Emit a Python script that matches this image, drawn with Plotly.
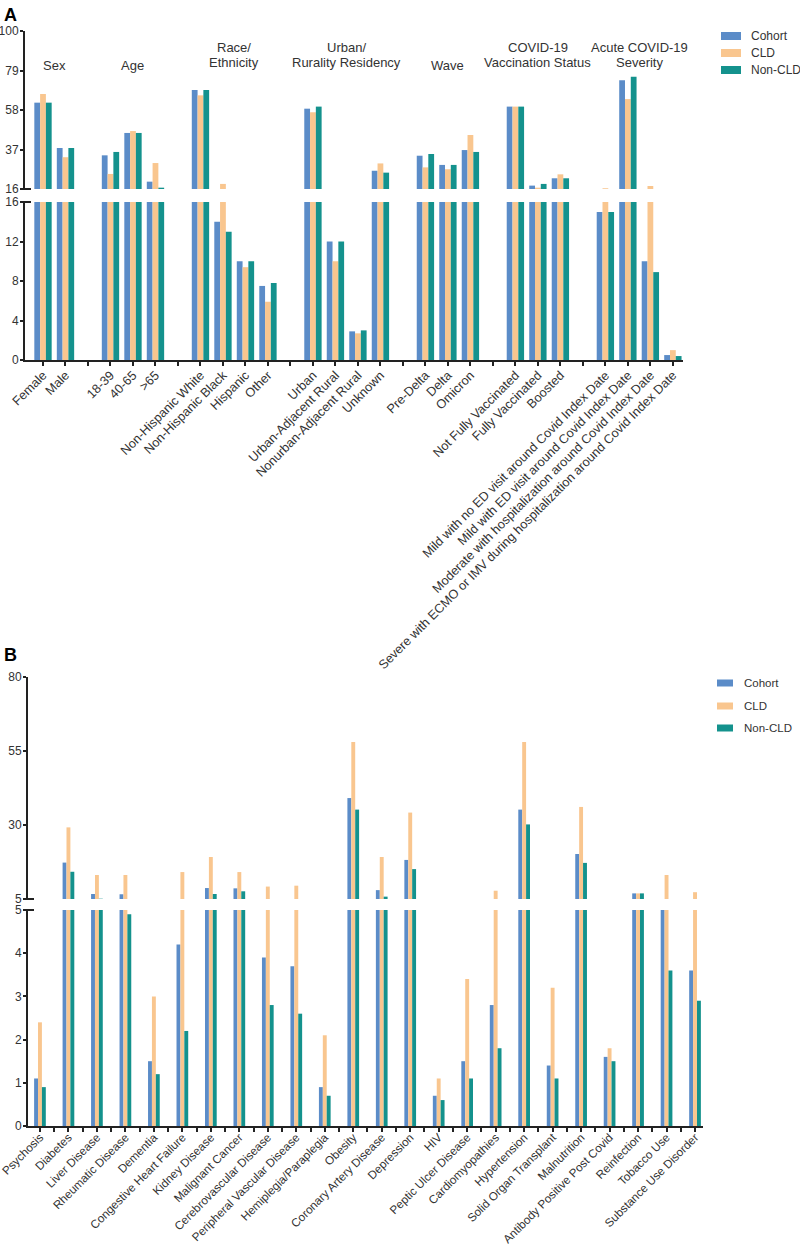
import plotly.graph_objects as go

# ---------------- Panel A data ----------------
a_group_titles = [["Sex"], ["Age"], ["Race/", "Ethnicity"], ["Urban/", "Rurality Residency"], ["Wave"],
                  ["COVID-19", "Vaccination Status"], ["Acute COVID-19", "Severity"]]
a_group_sizes = [2, 3, 4, 4, 3, 3, 4]
a_categories = ["Female", "Male",
                "18-39", "40-65", ">65",
                "Non-Hispanic White", "Non-Hispanic Black", "Hispanic", "Other",
                "Urban", "Urban-Adjacent Rural", "Nonurban-Adjacent Rural", "Unknown",
                "Pre-Delta", "Delta", "Omicron",
                "Not Fully Vaccinated", "Fully Vaccinated", "Boosted",
                "Mild with no ED visit around Covid Index Date",
                "Mild with ED visit around Covid Index Date",
                "Moderate with hospitalization around Covid Index Date",
                "Severe with ECMO or IMV during hospitalization around Covid Index Date"]
a_cohort = [61.9, 37.8, 33.9, 45.8, 19.9, 68.6, 14.0, 10.0, 7.5, 58.7, 12.0, 2.9, 25.7,
            33.7, 28.8, 36.7, 59.8, 17.8, 21.7, 15.0, 73.8, 10.0, 0.5]
a_cld = [66.5, 32.9, 24.0, 46.8, 29.8, 65.8, 18.7, 9.4, 5.9, 56.8, 10.0, 2.7, 29.6,
         27.5, 26.5, 44.7, 59.8, 16.7, 23.8, 16.4, 63.8, 17.6, 1.0]
a_noncld = [61.9, 37.8, 35.7, 45.8, 16.7, 68.6, 13.0, 10.0, 7.8, 59.8, 12.0, 3.0, 24.7,
            34.6, 28.8, 35.7, 59.8, 18.7, 21.7, 15.0, 75.7, 8.9, 0.4]
a_upper_ticks = [16, 37, 58, 79, 100]
a_lower_ticks = [0, 4, 8, 12, 16]

# ---------------- Panel B data ----------------
b_categories = ["Psychosis", "Diabetes", "Liver Disease", "Rheumatic Disease", "Dementia",
                "Congestive Heart Failure", "Kidney Disease", "Malignant Cancer",
                "Cerebrovascular Disease", "Peripheral Vascular Disease", "Hemiplegia/Paraplegia",
                "Obesity", "Coronary Artery Disease", "Depression", "HIV", "Peptic Ulcer Disease",
                "Cardiomyopathies", "Hypertension", "Solid Organ Transplant", "Malnutrition",
                "Antibody Positive Post Covid", "Reinfection", "Tobacco Use", "Substance Use Disorder"]
b_cohort = [1.1, 17.3, 6.7, 6.6, 1.5, 4.2, 8.7, 8.6, 3.9, 3.7, 0.9, 39.1, 8.0, 18.2,
            0.7, 1.5, 2.8, 35.2, 1.4, 20.2, 1.6, 6.9, 5.0, 3.6]
b_cld = [2.4, 29.2, 13.1, 13.1, 3.0, 14.1, 19.2, 14.1, 9.2, 9.5, 2.1, 58.0, 19.2, 34.2,
         1.1, 3.4, 7.8, 58.0, 3.2, 36.1, 1.8, 6.9, 13.1, 7.3]
b_noncld = [0.9, 14.2, 5.1, 4.9, 1.2, 2.2, 6.7, 7.6, 2.8, 2.6, 0.7, 35.2, 5.8, 15.1,
            0.6, 1.1, 1.8, 30.2, 1.1, 17.2, 1.5, 6.9, 3.6, 2.9]
b_upper_ticks = [5, 30, 55, 80]
b_lower_ticks = [0, 1, 2, 3, 4, 5]

series_names = ["Cohort", "CLD", "Non-CLD"]
colors = ["#5B8CC8", "#F9C68F", "#14928D"]

W, H = 800, 1248
FONT = "Liberation Sans, Arial, sans-serif"
TXT = "#333333"
AX = "#222222"


def py(px_y):
    return 1 - px_y / H


def px(px_x):
    return px_x / W


# positions for panel A: blank slot between groups
a_pos = []
p = 0
for n in a_group_sizes:
    for k in range(n):
        a_pos.append(p)
        p += 1
    p += 1
a_max = a_pos[-1]
a_tickvals = list(range(0, a_max + 1))
a_ticktext = ["" for _ in a_tickvals]
for pos, lab in zip(a_pos, a_categories):
    a_ticktext[pos] = lab

# positions for panel B: a blank slot between each category
b_pos = [2 * i for i in range(len(b_categories))]
b_max = b_pos[-1]
b_tickvals = list(range(0, b_max + 1))
b_ticktext = ["" for _ in b_tickvals]
for pos, lab in zip(b_pos, b_categories):
    b_ticktext[pos] = lab

fig = go.Figure()

a_width = 0.257
a_offsets = [-1.5 * a_width, -0.5 * a_width, 0.5 * a_width]
b_width = 0.274
b_offsets = [-1.5 * b_width, -0.5 * b_width, 0.5 * b_width]

a_data = [a_cohort, a_cld, a_noncld]
b_data = [b_cohort, b_cld, b_noncld]

for i in range(3):
    for xa, ya in [("x2", "y2"), ("x", "y")]:
        fig.add_trace(go.Bar(x=a_pos, y=a_data[i], name=series_names[i], width=a_width,
                             offset=a_offsets[i], marker=dict(color=colors[i], line=dict(width=0)),
                             xaxis=xa, yaxis=ya, showlegend=False))
for i in range(3):
    for xa, ya in [("x4", "y4"), ("x3", "y3")]:
        fig.add_trace(go.Bar(x=b_pos, y=b_data[i], name=series_names[i], width=b_width,
                             offset=b_offsets[i], marker=dict(color=colors[i], line=dict(width=0)),
                             xaxis=xa, yaxis=ya, showlegend=False))

a_xrange = [-0.8, a_max + 0.45]
b_xrange = [-0.84, b_max + 0.56]
a_xdom = [px(25), px(683)]
b_xdom = [px(28), px(703)]

yaxis_common = dict(showline=True, linecolor=AX, linewidth=2, ticks="outside", ticklen=3,
                    tickwidth=1.5, tickcolor=AX, showgrid=False, zeroline=False,
                    ticklabeloverflow="allow", ticklabelstandoff=-1,
                    tickfont=dict(family=FONT, size=12, color=TXT), fixedrange=True)


def xaxis_common(fs, standoff):
    return dict(showline=True, linecolor=AX, linewidth=2, ticks="outside", ticklen=4,
                tickwidth=1.5, tickcolor=AX, tickangle=-45, showgrid=False, zeroline=False,
                ticklabeloverflow="allow", ticklabelstandoff=standoff,
                tickfont=dict(family=FONT, size=fs, color=TXT))


fig.update_layout(
    width=W, height=H, plot_bgcolor="white", paper_bgcolor="white",
    margin=dict(l=0, r=0, t=0, b=0, autoexpand=False),
    barmode="overlay", font=dict(family=FONT, color=TXT), showlegend=False,
    xaxis=dict(domain=a_xdom, range=a_xrange, visible=False, anchor="y"),
    yaxis=dict(domain=[py(189), py(31)], range=[16, 100], tickvals=a_upper_ticks,
               anchor="x", **yaxis_common),
    xaxis2=dict(domain=a_xdom, range=a_xrange, anchor="y2",
                tickvals=a_tickvals, ticktext=a_ticktext, **xaxis_common(12.7, -3)),
    yaxis2=dict(domain=[py(360), py(202)], range=[0, 16], tickvals=a_lower_ticks,
                anchor="x2", **yaxis_common),
    xaxis3=dict(domain=b_xdom, range=b_xrange, visible=False, anchor="y3"),
    yaxis3=dict(domain=[py(899), py(677)], range=[5, 80], tickvals=b_upper_ticks,
                anchor="x3", **yaxis_common),
    xaxis4=dict(domain=b_xdom, range=b_xrange, anchor="y4",
                tickvals=b_tickvals, ticktext=b_ticktext, **xaxis_common(11.7, -6)),
    yaxis4=dict(domain=[py(1126), py(910)], range=[0, 5], tickvals=b_lower_ticks,
                anchor="x4", **yaxis_common),
)

# Panel labels
fig.add_annotation(text="<b>A</b>", x=px(2), y=py(3), xref="paper", yref="paper",
                   xanchor="left", yanchor="top", showarrow=False,
                   font=dict(family=FONT, size=18, color="black"))
fig.add_annotation(text="<b>B</b>", x=px(2), y=py(643), xref="paper", yref="paper",
                   xanchor="left", yanchor="top", showarrow=False,
                   font=dict(family=FONT, size=18, color="black"))

# Group titles for panel A (centered over each group)
start = 0
for lines, n in zip(a_group_titles, a_group_sizes):
    grp = a_pos[start:start + n]
    center = (grp[0] + grp[-1]) / 2
    start += n
    ys = [65] if len(lines) == 1 else [48, 62]
    for line, yy in zip(lines, ys):
        fig.add_annotation(text=line, x=center, xref="x", y=py(yy), yref="paper",
                           xanchor="center", yanchor="middle", showarrow=False,
                           font=dict(family=FONT, size=13, color=TXT))

# Legends (drawn as swatches + labels)
for (sx0, sx1, sh, tx, rows, fs) in [(721, 741, 8, 749, [36, 53, 70], 12),
                                     (717, 733, 7, 742, [683, 706, 728], 11.5)]:
    for i, yy in enumerate(rows):
        fig.add_shape(type="rect", xref="paper", yref="paper", x0=px(sx0), x1=px(sx1),
                      y0=py(yy + sh / 2), y1=py(yy - sh / 2), line=dict(width=0),
                      fillcolor=colors[i])
        fig.add_annotation(text=series_names[i], x=px(tx), y=py(yy), xref="paper", yref="paper",
                           xanchor="left", yanchor="middle", showarrow=False,
                           font=dict(family=FONT, size=fs, color=TXT))

# Axis break marks
for ax_x, y_ups in [(25, [189, 202]), (28, [899, 910])]:
    for yy in y_ups:
        fig.add_shape(type="line", xref="paper", yref="paper",
                      x0=px(ax_x - 5), x1=px(ax_x + 6), y0=py(yy), y1=py(yy),
                      line=dict(color=AX, width=2))

fig.write_html("out.html", config={"displayModeBar": False},
               post_script="document.body.style.margin='0px';")
